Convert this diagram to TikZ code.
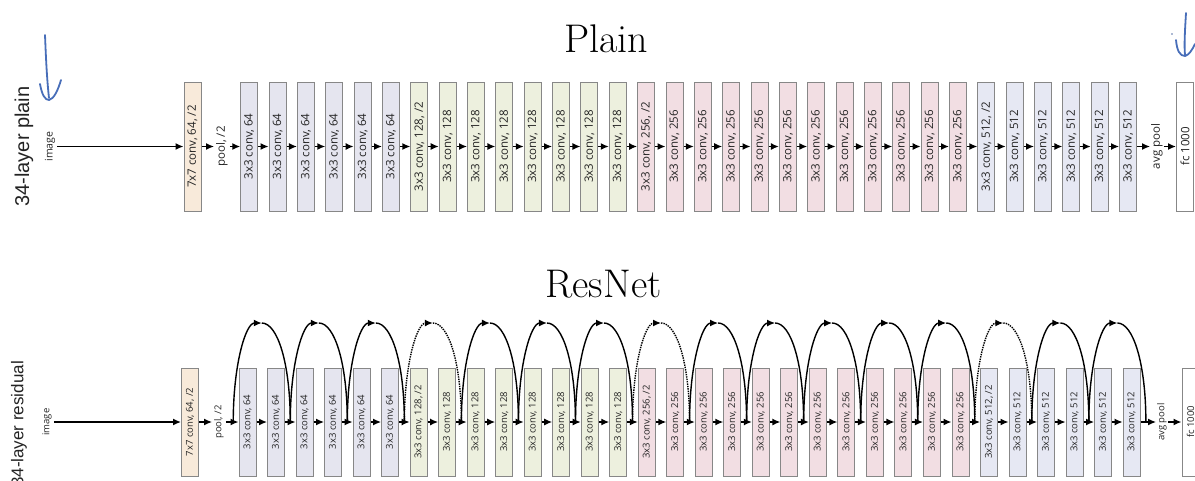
\documentclass[tikz,border=0pt]{standalone}
\usepackage{fontspec}
\usepackage{graphicx}
\usetikzlibrary{arrows.meta}
\newfontfamily\boxfont{Open Sans}
\newfontfamily\rowfont{Liberation Sans}
\definecolor{c7}{RGB}{248,234,218}
\definecolor{c64}{RGB}{229,229,239}
\definecolor{c128}{RGB}{237,240,222}
\definecolor{c256}{RGB}{242,222,227}
\definecolor{c512}{RGB}{230,232,243}
\definecolor{edge}{RGB}{135,135,135}
\definecolor{ink}{RGB}{35,35,35}
\definecolor{handblue}{RGB}{72,110,185}
\begin{document}
\begin{tikzpicture}[x=1pt,y=-1pt,
  convbox/.style={draw=edge, line width=1pt, minimum width=17pt, inner sep=0pt, text=ink},
  plainrow/.style={minimum height=129pt, font=\boxfont\fontsize{11.5}{14}\selectfont},
  resrow/.style={minimum height=108pt, font=\boxfont\fontsize{9.5}{12}\selectfont},
  lab/.style={inner xsep=2pt, inner ysep=0pt, text=ink},
  arr/.style={-{Latex[length=8pt,width=7pt]}, line width=1.4pt},
  skipline/.style={line width=1.4pt},
  tipped/.style={-{Latex[length=8pt,width=7pt]}},
  hand/.style={draw=handblue, line width=1.8pt, line cap=round, line join=round}]
\useasboundingbox (0,0) rectangle (1195,480);
\clip (0,0) rectangle (1195,480);

% ---------- titles ----------
\node[anchor=base, font=\fontsize{40}{48}\selectfont] (tplain) at (606,52) {Plain};
\node[anchor=base, font=\fontsize{40}{48}\selectfont] (tres) at (603.5,297) {ResNet};

% ---------- hand-drawn marks ----------
\draw[hand] (45,35) .. controls (46,60) and (47,80) .. (49,98);
\draw[hand] (40,84) .. controls (42,95) and (45,100) .. (49,100) .. controls (54,99) and (58,90) .. (61,80);
\draw[hand] (1186,13) .. controls (1185,30) and (1184,45) .. (1185,55);
\draw[hand] (1176,40) .. controls (1177,51) and (1180,56) .. (1185,56) .. controls (1189,55) and (1192,50) .. (1195,44);
\fill[handblue!70!gray] (1172,34) circle (0.9);

% ---------- plain network ----------
\node[inner sep=0pt, text=ink, font=\rowfont\fontsize{20}{24}\selectfont] (lplain) at (24,146.5) {\rotatebox{90}{34-layer plain}};
\node[lab, font=\boxfont\fontsize{10.5}{13}\selectfont] (pimg) at (50,146.5) {\rotatebox{90}{image}};
\node[convbox, plainrow, fill=c7] (pc7) at (192.5,146.5) {\rotatebox{90}{7x7 conv, 64, /2}};
\node[lab, font=\boxfont\fontsize{11.5}{14}\selectfont, inner xsep=2pt] (ppool) at (222,146.5) {\rotatebox{90}{pool, /2}};
\foreach \i in {0,...,31}{
  \pgfmathtruncatemacro\grp{\i<6 ? 64 : (\i<14 ? 128 : (\i<26 ? 256 : 512))}
  \pgfmathtruncatemacro\half{(\i==6)||(\i==14)||(\i==26)}
  \ifnum\half=1 \def\suf{, /2}\else\def\suf{}\fi
  \node[convbox, plainrow, fill=c\grp] (p\i) at ({249.25+28.35*\i},146.5) {\rotatebox{90}{3x3 conv, \grp\suf}};
}
\node[lab, font=\boxfont\fontsize{11.5}{14}\selectfont, inner xsep=1pt] (pavg) at (1157,146.5) {\rotatebox{90}{avg pool}};
\node[convbox, plainrow, fill=white] (pfc) at (1185,146.5) {\rotatebox{90}{fc 1000}};

\draw[arr] (pimg.east) -- (pc7.west);
\draw[arr] (pc7.east) -- (ppool.west);
\draw[arr] (ppool.east) -- (p0.west);
\foreach \i [evaluate=\i as \j using int(\i+1)] in {0,...,30}
  \draw[arr] (p\i.east) -- (p\j.west);
\draw[arr] (p31.east) -- (pavg.west);
\draw[arr] (pavg.east) -- (pfc.west);

% ---------- residual network ----------
\node[inner sep=0pt, text=ink, font=\rowfont\fontsize{17}{21}\selectfont] (lres) at (19,424) {\rotatebox{90}{34-layer residual}};
\node[lab, font=\boxfont\fontsize{9.5}{12}\selectfont] (rimg) at (47,422) {\rotatebox{90}{image}};
\node[convbox, resrow, fill=c7] (rc7) at (190,422) {\rotatebox{90}{7x7 conv, 64, /2}};
\node[lab, font=\boxfont\fontsize{9.5}{12}\selectfont, inner xsep=2pt] (rpool) at (219,422) {\rotatebox{90}{pool, /2}};
\foreach \i in {0,...,31}{
  \pgfmathtruncatemacro\grp{\i<6 ? 64 : (\i<14 ? 128 : (\i<26 ? 256 : 512))}
  \pgfmathtruncatemacro\half{(\i==6)||(\i==14)||(\i==26)}
  \ifnum\half=1 \def\suf{, /2}\else\def\suf{}\fi
  \node[convbox, resrow, fill=c\grp] (r\i) at ({247.5+28.52*\i},422) {\rotatebox{90}{3x3 conv, \grp\suf}};
}
\node[lab, font=\boxfont\fontsize{9.5}{12}\selectfont, inner xsep=1pt] (ravg) at (1162,422) {\rotatebox{90}{avg pool}};
\node[convbox, resrow, fill=white] (rfc) at (1190.5,422) {\rotatebox{90}{fc 1000}};

\draw[arr] (rimg.east) -- (rc7.west);
\draw[arr] (rc7.east) -- (rpool.west);
\draw[arr] (rpool.east) -- (r0.west);
\foreach \i [evaluate=\i as \j using int(\i+1)] in {0,...,30}
  \draw[arr] (r\i.east) -- (r\j.west);
\draw[arr] (r31.east) -- (ravg.west);
\draw[arr] (ravg.east) -- (rfc.west);

% shortcut connections: junction points between layers and arc tops
\foreach \i in {0,...,32}
  \coordinate (g\i) at ({233.24+28.52*\i},422);
\foreach \k in {0,...,15}
  \coordinate (t\k) at ({233.24+28.52*(2*\k+1)},323);
\foreach \k in {0,...,15}{
  \pgfmathtruncatemacro\a{2*\k}
  \pgfmathtruncatemacro\b{2*\k+2}
  \pgfmathtruncatemacro\proj{(\k==3)||(\k==7)||(\k==13)}
  \ifnum\proj=1 \tikzset{cur/.style={densely dotted}}\else\tikzset{cur/.style={solid}}\fi
  \draw[skipline, cur, tipped] (g\a) .. controls +(0,-58) and +(-16,0) .. (t\k);
  \draw[skipline, cur] (t\k) .. controls +(16,0) and +(0,-58) .. (g\b);
}
\end{tikzpicture}
\end{document}
